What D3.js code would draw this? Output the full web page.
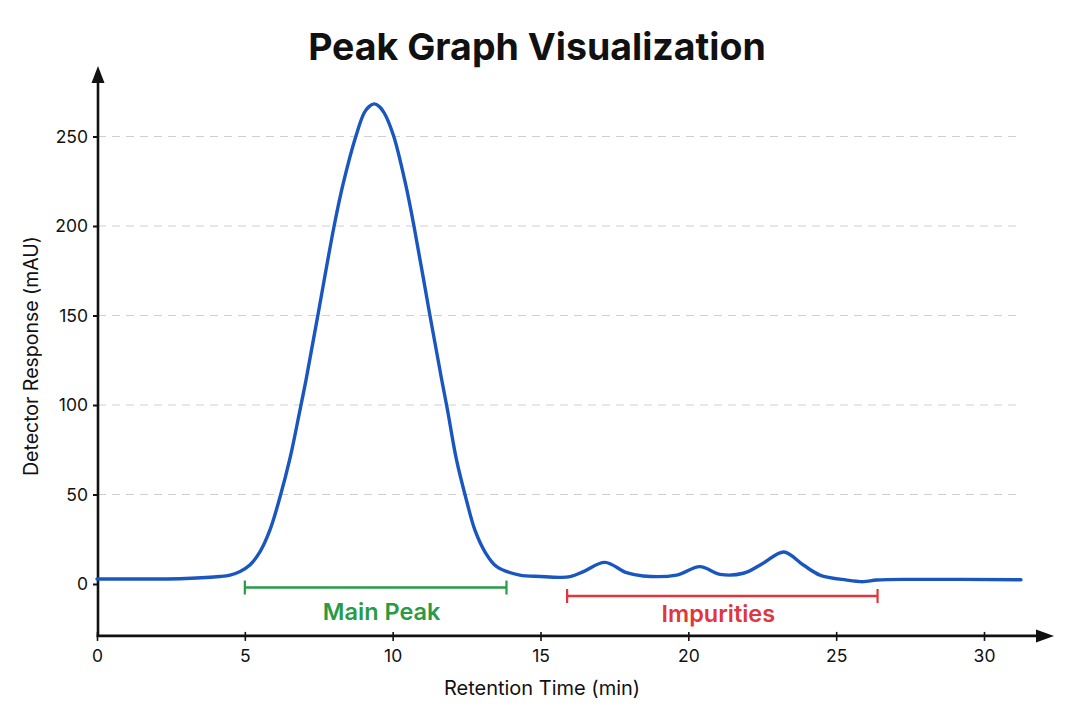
<!DOCTYPE html>
<html>
<head>
<meta charset="utf-8">
<script src="https://cdn.jsdelivr.net/npm/d3@7"></script>
<style>
  body { margin: 0; background: #fff; }
  text { font-family: Inter, "Noto Sans", sans-serif; }
</style>
</head>
<body>
<svg id="chart" width="1075" height="716"></svg>
<script>
// Chromatogram trace
const retentionTimes = [0, 2, 3, 4.16, 4.5, 4.84, 5.17, 5.51, 5.85, 6.19, 6.53, 6.87, 7.07, 7.46, 8.02, 8.33,
    8.76, 9.03, 9.2, 9.38, 9.55, 9.72, 10.03, 10.43, 10.72, 11.27, 11.66, 11.85, 12.16, 12.5, 12.78, 13.12, 13.52,
    14.3, 15, 15.66, 16, 16.45, 17.18, 17.91, 18.47, 19.6, 20.39, 21.07, 21.86, 22.53, 23.23, 23.89,
    24.45, 25.35, 25.92, 26.37, 27.5, 31.25];
const responses = [2.8, 2.8, 3.1, 4.2, 5.0, 7.0, 10.6, 17.9, 30.2, 48.6, 70.4, 97.6, 114, 149.2, 200, 223.9,
    250.4, 263, 266.7, 268.2, 266.7, 263, 250.4, 223.9, 200, 149.2, 114, 97.6, 69.3, 46.5, 30.2, 18, 9.7,
    5.0, 4.2, 3.7, 4.1, 6.9, 12.1, 6.3, 4.5, 5.0, 9.7, 5.4, 6.0, 11.6, 17.9, 10.6,
    5.0, 2.2, 1.3, 2.2, 2.6, 2.4];

const xTicks = [0, 5, 10, 15, 20, 25, 30];
const yTicks = [0, 50, 100, 150, 200, 250];

// annotated ranges
const rangeLabels = ["Main Peak", "Impurities"];
const rangeStart = [5.0, 15.9];
const rangeEnd = [13.85, 26.4];
const rangeColors = ["#2a9a45", "#e0363c"];

const svg = d3.select("#chart");

const x = d3.scaleLinear().domain([0, 30]).range([97, 984]);
const y = d3.scaleLinear().domain([0, 250]).range([584, 136.5]);

const axisY = y(-29);
const axisX = x(0) + 1;

// title
svg.append("text")
    .attr("x", 537)
    .attr("y", 60)
    .attr("text-anchor", "middle")
    .attr("font-size", 37.5)
    .attr("font-weight", 700)
    .attr("fill", "#111")
    .text("Peak Graph Visualization");

// grid lines
svg.append("g")
    .selectAll("line")
    .data(yTicks.filter(d => d > 0))
    .enter()
    .append("line")
    .attr("x1", axisX)
    .attr("x2", 1022)
    .attr("y1", d => y(d))
    .attr("y2", d => y(d))
    .attr("stroke", "#cfcfcf")
    .attr("stroke-width", 1.2)
    .attr("stroke-dasharray", "8,6");

// y axis ticks + labels
const yAxis = svg.append("g")
    .attr("transform", "translate(" + axisX + ",0)")
    .call(d3.axisLeft(y).tickValues(yTicks).tickSize(5).tickPadding(5));
yAxis.select(".domain").remove();
yAxis.selectAll("line").attr("stroke", "#111").attr("stroke-width", 2);
yAxis.selectAll("text")
    .attr("font-size", 17.5)
    .attr("fill", "#111")
    .style("font-family", "Inter, sans-serif");

// x axis ticks + labels
const xAxis = svg.append("g")
    .attr("transform", "translate(0," + axisY + ")")
    .call(d3.axisBottom(x).tickValues(xTicks).tickSize(5).tickPadding(9));
xAxis.select(".domain").remove();
xAxis.selectAll("line").attr("y1", -4).attr("stroke", "#111").attr("stroke-width", 1.6);
xAxis.selectAll("text")
    .attr("font-size", 17.5)
    .attr("fill", "#111")
    .style("font-family", "Inter, sans-serif");

// axis lines with arrows
svg.append("line")
    .attr("x1", axisX).attr("x2", axisX)
    .attr("y1", axisY + 1).attr("y2", 78)
    .attr("stroke", "#111").attr("stroke-width", 2.6);
svg.append("path")
    .attr("d", d3.line()([[axisX, 66], [axisX - 6.5, 83], [axisX + 6.5, 83]]) + "Z")
    .attr("fill", "#111");

svg.append("line")
    .attr("x1", axisX - 1.3).attr("x2", 1040)
    .attr("y1", axisY).attr("y2", axisY)
    .attr("stroke", "#111").attr("stroke-width", 2.6);
svg.append("path")
    .attr("d", d3.line()([[1054, axisY], [1036, axisY - 6.5], [1036, axisY + 6.5]]) + "Z")
    .attr("fill", "#111");

// axis titles
svg.append("text")
    .attr("x", 542)
    .attr("y", 695)
    .attr("text-anchor", "middle")
    .attr("font-size", 20)
    .attr("fill", "#111")
    .text("Retention Time (min)");

svg.append("text")
    .attr("transform", "translate(38,356) rotate(-90)")
    .attr("text-anchor", "middle")
    .attr("font-size", 19.5)
    .attr("fill", "#111")
    .text("Detector Response (mAU)");

// the trace
const trace = retentionTimes.map((t, i) => [t, responses[i]]);
const line = d3.line()
    .x(d => x(d[0]))
    .y(d => y(d[1]))
    .curve(d3.curveCatmullRom.alpha(0.5));

svg.append("path")
    .datum(trace)
    .attr("d", line)
    .attr("fill", "none")
    .attr("stroke", "#1a56c0")
    .attr("stroke-width", 3.4)
    .attr("stroke-linejoin", "round")
    .attr("stroke-linecap", "round");

// range brackets
const bracketY = [587.5, 596];
const labelY = [620, 621.5];

const brackets = svg.append("g")
    .selectAll("g")
    .data(rangeLabels)
    .enter()
    .append("g");

brackets.append("line")
    .attr("x1", (d, i) => x(rangeStart[i]))
    .attr("x2", (d, i) => x(rangeEnd[i]))
    .attr("y1", (d, i) => bracketY[i])
    .attr("y2", (d, i) => bracketY[i])
    .attr("stroke", (d, i) => rangeColors[i])
    .attr("stroke-width", 2.4);

brackets.append("line")
    .attr("x1", (d, i) => x(rangeStart[i]))
    .attr("x2", (d, i) => x(rangeStart[i]))
    .attr("y1", (d, i) => bracketY[i] - 7)
    .attr("y2", (d, i) => bracketY[i] + 7)
    .attr("stroke", (d, i) => rangeColors[i])
    .attr("stroke-width", 2.2);

brackets.append("line")
    .attr("x1", (d, i) => x(rangeEnd[i]))
    .attr("x2", (d, i) => x(rangeEnd[i]))
    .attr("y1", (d, i) => bracketY[i] - 7)
    .attr("y2", (d, i) => bracketY[i] + 7)
    .attr("stroke", (d, i) => rangeColors[i])
    .attr("stroke-width", 2.2);

brackets.append("text")
    .attr("x", (d, i) => (x(rangeStart[i]) + x(rangeEnd[i])) / 2 + (i === 0 ? 6 : -4))
    .attr("y", (d, i) => labelY[i])
    .attr("text-anchor", "middle")
    .attr("font-size", 23.5)
    .attr("font-weight", 600)
    .attr("fill", (d, i) => rangeColors[i])
    .text(d => d);
</script>
</body>
</html>
